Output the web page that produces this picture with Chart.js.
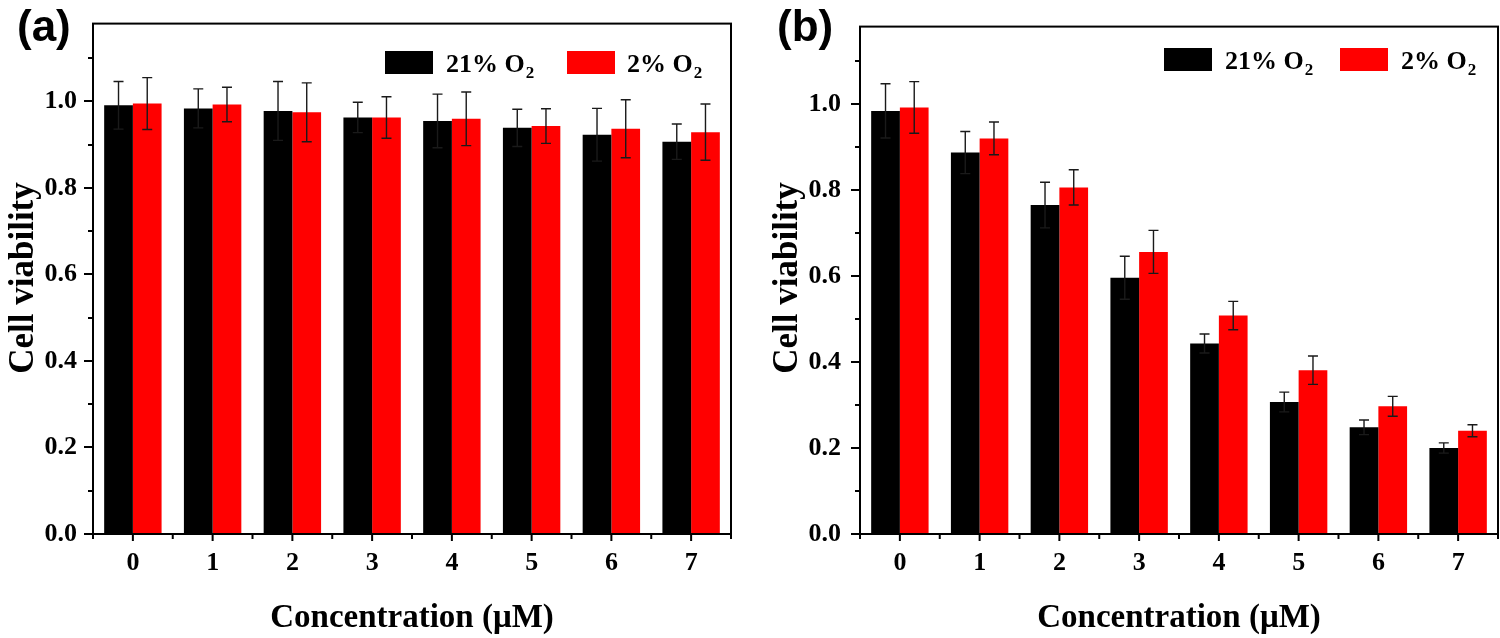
<!DOCTYPE html>
<html><head><meta charset="utf-8">
<script src="https://cdn.jsdelivr.net/npm/chart.js@4.4.0/dist/chart.umd.min.js"></script>
<style>
html,body{margin:0;padding:0;background:#fff;overflow:hidden}
#wrap{position:relative;width:1500px;height:638px;background:#fff}
canvas{position:absolute;top:0}
</style></head><body>
<div id="wrap">
<canvas id="ca" width="750" height="638" style="left:0"></canvas>
<canvas id="cb" width="750" height="638" style="left:750px"></canvas>
</div>
<script>
// ---- data ----
const categories = ['0','1','2','3','4','5','6','7'];
const seriesNames = ['21% O2', '2% O2'];
const yTickValues = [0,0.1,0.2,0.3,0.4,0.5,0.6,0.7,0.8,0.9,1.0,1.1];
const xTitle = 'Concentration (\u03bcM)';
const yTitle = 'Cell viability';

const a21 = [0.991, 0.984, 0.978, 0.963, 0.955, 0.939, 0.923, 0.907];
const a21err = [0.055, 0.045, 0.068, 0.035, 0.062, 0.043, 0.061, 0.041];
const a2 = [0.995, 0.993, 0.975, 0.963, 0.960, 0.943, 0.937, 0.929];
const a2err = [0.060, 0.040, 0.068, 0.048, 0.062, 0.040, 0.067, 0.065];

const b21 = [0.984, 0.887, 0.765, 0.596, 0.443, 0.307, 0.248, 0.200];
const b21err = [0.063, 0.049, 0.053, 0.050, 0.022, 0.023, 0.017, 0.012];
const b2 = [0.992, 0.920, 0.806, 0.656, 0.508, 0.381, 0.297, 0.240];
const b2err = [0.060, 0.038, 0.041, 0.050, 0.033, 0.033, 0.023, 0.014];

// ---- drawing ----
const SERIF = '"Liberation Serif", "Times New Roman", serif';
const SANS = '"Liberation Sans", Arial, sans-serif';

const errPlugin = {
  id: 'errbars',
  afterDatasetsDraw(chart) {
    const ctx = chart.ctx, ys = chart.scales.y;
    chart.data.datasets.forEach((ds, i) => {
      const meta = chart.getDatasetMeta(i);
      meta.data.forEach((bar, j) => {
        const v = ds.data[j], e = ds.errors[j];
        const x = bar.x;
        const yt = ys.getPixelForValue(v + e), yb = ys.getPixelForValue(v - e);
        ctx.save();
        ctx.strokeStyle = '#1a1a1a';
        ctx.lineWidth = 1.4;
        ctx.beginPath();
        ctx.moveTo(x, yt); ctx.lineTo(x, yb);
        ctx.moveTo(x - 5, yt); ctx.lineTo(x + 5, yt);
        ctx.moveTo(x - 5, yb); ctx.lineTo(x + 5, yb);
        ctx.stroke();
        ctx.restore();
      });
    });
  }
};

function drawSubText(ctx, text, x, y, size) {
  const main = text.slice(0, -1), sub = text.slice(-1);
  ctx.font = 'bold ' + size + 'px ' + SERIF;
  ctx.textAlign = 'left';
  ctx.textBaseline = 'alphabetic';
  ctx.fillText(main, x, y);
  const w = ctx.measureText(main).width;
  ctx.font = 'bold ' + Math.round(size * 0.65) + 'px ' + SERIF;
  ctx.fillText(sub, x + w + 1, y + 6);
}

const framePlugin = {
  id: 'frame',
  afterDraw(chart) {
    const g = chart.options.plugins.frame;
    const ctx = chart.ctx, ca = chart.chartArea;
    const xs = chart.scales.x, ys = chart.scales.y;
    ctx.save();
    ctx.strokeStyle = '#000';
    ctx.lineWidth = 2;
    // y ticks
    ctx.beginPath();
    yTickValues.forEach((v, i) => {
      const py = Math.round(ys.getPixelForValue(v));
      const len = (i % 2 === 0) ? 9 : 5;
      ctx.moveTo(ca.left, py); ctx.lineTo(ca.left - len, py);
    });
    // x ticks
    const step = xs.getPixelForValue(1) - xs.getPixelForValue(0);
    categories.forEach((c, i) => {
      const px = xs.getPixelForValue(i);
      ctx.moveTo(px, ca.bottom); ctx.lineTo(px, ca.bottom + 7);
    });
    for (let i = 0; i <= categories.length; i++) {
      const px = xs.getPixelForValue(0) - step / 2 + i * step;
      ctx.moveTo(px, ca.bottom); ctx.lineTo(px, ca.bottom + 5);
    }
    ctx.stroke();
    // box
    ctx.strokeRect(ca.left, ca.top, ca.right - ca.left, ca.bottom - ca.top);
    ctx.restore();

    // legend
    ctx.save();
    const colors = ['#000000', '#ff0000'];
    g.legend.forEach((lg, i) => {
      ctx.fillStyle = colors[i];
      ctx.fillRect(lg.bx, g.legendTop, 48, 23);
      ctx.fillStyle = '#000';
      drawSubText(ctx, seriesNames[i], lg.tx, g.legendTop + 21, 26);
    });
    // axis titles
    ctx.fillStyle = '#000';
    ctx.font = 'bold 33px ' + SERIF;
    ctx.textAlign = 'center';
    ctx.textBaseline = 'alphabetic';
    ctx.fillText(xTitle, (ca.left + ca.right) / 2, 627);
    ctx.save();
    ctx.translate(g.yTitleX, 278);
    ctx.rotate(-Math.PI / 2);
    ctx.font = 'bold 35px ' + SERIF;
    ctx.fillText(yTitle, 0, 0);
    ctx.restore();
    // panel label
    ctx.font = 'bold 44px ' + SANS;
    ctx.textAlign = 'left';
    ctx.fillText(g.panel, g.panelX, 41);
    ctx.restore();
  }
};

function makeChart(id, d21, e21, d2, e2, geom) {
  return new Chart(document.getElementById(id), {
    type: 'bar',
    data: {
      labels: categories,
      datasets: [
        { label: seriesNames[0], data: d21, errors: e21, backgroundColor: '#000000',
          borderWidth: 0, barPercentage: 1.0, categoryPercentage: 0.72 },
        { label: seriesNames[1], data: d2, errors: e2, backgroundColor: '#ff0000',
          borderWidth: 0, barPercentage: 1.0, categoryPercentage: 0.72 }
      ]
    },
    options: {
      responsive: false,
      animation: false,
      devicePixelRatio: 1,
      layout: { padding: { left: 0, right: geom.padRight, top: 23, bottom: 0 } },
      plugins: {
        legend: { display: false },
        tooltip: { enabled: false },
        frame: geom
      },
      scales: {
        x: {
          type: 'category',
          grid: { display: false, offset: true },
          border: { display: false },
          ticks: { color: '#000', padding: 6, maxRotation: 0,
                   font: { family: SERIF, weight: 'bold', size: 26 } },
          afterFit(s) { s.height = 104; }
        },
        y: {
          min: 0, max: 1.18,
          grid: { display: false },
          border: { display: false },
          afterBuildTicks(s) { s.ticks = yTickValues.map(v => ({ value: v })); },
          afterFit(s) { s.width = geom.yWidth; },
          ticks: {
            color: '#000', padding: geom.labelPad,
            font: { family: SERIF, weight: 'bold', size: 26 },
            callback(v, i) { return (Math.round(v * 10) % 2 === 0) ? v.toFixed(1) : ''; }
          }
        }
      }
    },
    plugins: [errPlugin, framePlugin]
  });
}

makeChart('ca', a21, a21err, a2, a2err, {
  yWidth: 93, padRight: 19, labelPad: 8, yTitleX: 33, panel: '(a)', panelX: 17,
  legendTop: 51, legend: [{ bx: 385, tx: 446 }, { bx: 567, tx: 627 }]
});
makeChart('cb', b21, b21err, b2, b2err, {
  yWidth: 110, padRight: 2, labelPad: 11, yTitleX: 47, panel: '(b)', panelX: 27,
  legendTop: 48, legend: [{ bx: 414, tx: 475 }, { bx: 590, tx: 651 }]
});
</script>
</body></html>
